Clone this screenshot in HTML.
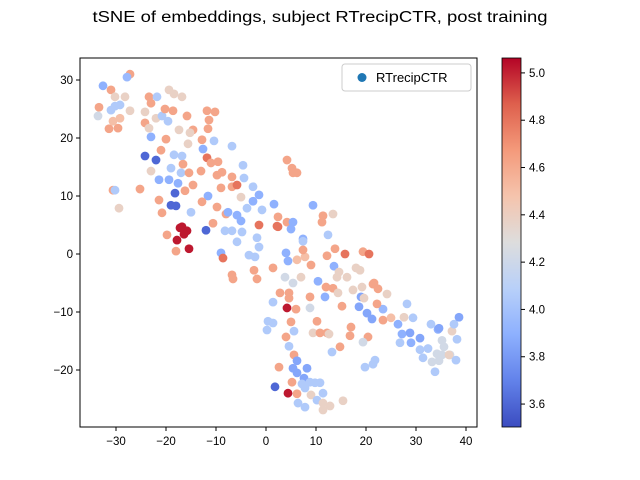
<!DOCTYPE html>
<html><head><meta charset="utf-8"><style>
body{margin:0;background:#fff}
svg{display:block;font-family:"Liberation Sans","DejaVu Sans",sans-serif}
</style></head><body>
<svg id="chart" width="640" height="480" viewBox="0 0 640 480">
<rect width="640" height="480" fill="#fff"/>
<text x="320" y="22" text-anchor="middle" font-size="15.5" textLength="455" lengthAdjust="spacingAndGlyphs">tSNE of embeddings, subject RTrecipCTR, post training</text>
<g id="points"></g>
<rect x="80" y="58" width="397" height="369" fill="none" stroke="#000" stroke-width="1"/>
<g id="xticks"></g>
<g id="yticks"></g>
<g>
<rect x="342" y="64" width="129" height="27" rx="3" fill="#fff" stroke="#ccc"/>
<circle cx="362" cy="77.5" r="4.5" fill="#1f77b4"/>
<text x="376" y="82" font-size="13">RTrecipCTR</text>
</g>
<defs><linearGradient id="cg" x1="0" y1="1" x2="0" y2="0">
<stop offset="0" stop-color="#3b4cc0"/><stop offset="0.125" stop-color="#6282ea"/><stop offset="0.25" stop-color="#8db0fe"/><stop offset="0.375" stop-color="#b8d0f9"/><stop offset="0.5" stop-color="#dddddd"/><stop offset="0.625" stop-color="#f5c4ad"/><stop offset="0.75" stop-color="#f49a7b"/><stop offset="0.875" stop-color="#de604d"/><stop offset="1" stop-color="#b40426"/>
</linearGradient></defs>
<rect x="502" y="58" width="19" height="369" fill="url(#cg)" stroke="#000" stroke-width="0.8"/>
<g id="cticks"></g>
</svg>
<script>
const xVals=[-27.2,-27.8,-32.6,-31.0,-30.2,-28.2,-33.4,-33.6,-31.0,-30.2,-29.2,-27.2,-30.6,-29.2,-31.4,-29.6,-23.4,-23.0,-21.8,-19.4,-18.4,-16.8,-24.2,-24.2,-23.4,-23.0,-22.0,-20.8,-19.6,-20.2,-18.6,-15.8,-17.4,-14.6,-15.2,-20.0,-15.6,-11.8,-10.2,-11.4,-11.6,-12.8,-10.4,-6.8,-12.6,-21.0,-24.2,-22.0,-18.4,-16.8,-11.8,-11.0,-9.6,-4.6,-23.0,-19.0,-16.6,-17.0,-15.4,-13.0,-9.8,-8.8,-6.8,-4.4,-21.4,-19.4,-17.6,-14.6,-25.2,-30.6,-30.2,-18.2,-16.2,-11.6,-9.0,-6.8,-5.8,-5.0,-1.4,-2.6,-3.8,-0.8,1.6,-19.0,-18.0,-21.4,-12.8,-9.8,-15.0,-20.8,-29.4,-10.6,-8.0,-7.6,-5.8,-5.0,-1.4,2.2,-16.8,-15.8,-16.4,-17.8,-15.4,-17.2,-12.0,-19.8,-8.2,-6.8,-4.8,-5.8,-1.8,-18.0,-9.0,-8.6,-1.4,-3.4,-2.2,-2.6,
4.2,5.2,6.2,5.4,9.4,11.4,13.4,11.2,12.4,2.4,4.2,2.4,5.4,5.0,7.4,4.0,4.4,6.2,7.8,7.4,9.0,12.2,13.8,15.8,19.4,20.6,13.6,14.6,16.2,14.2,18.0,18.8,21.4,10.4,1.4,3.8,5.4,7.0,-2.4,-1.8,-6.8,-6.6,12.0,13.4,17.4,19.2,14.4,7.4,
11.8,21.6,22.4,24.2,19.0,18.6,20.2,21.2,23.4,19.6,22.2,15.2,17.0,16.8,20.4,19.4,13.2,14.8,23.4,25.0,27.6,28.2,29.4,26.4,27.2,28.8,29.0,30.8,26.8,30.8,31.4,33.0,34.4,32.4,33.8,33.2,34.6,34.2,35.2,35.6,36.8,35.2,37.2,36.6,38.0,38.2,37.6,38.6,34.6,
2.8,4.6,4.6,1.4,8.8,4.2,6.0,8.8,0.4,1.4,0.2,5.0,5.6,4.0,4.6,10.2,9.4,10.8,12.2,12.6,21.8,21.4,19.8,5.6,6.2,5.4,8.2,6.2,7.6,2.6,5.2,7.2,8.8,9.8,10.8,7.8,1.8,4.4,6.2,9.0,11.4,10.2,6.4,7.8,11.4,12.8,11.4,15.4];
const yVals=[31.0,30.5,29.0,28.3,27.1,27.1,25.3,23.8,24.8,25.5,25.7,24.7,22.9,23.4,21.6,21.7,27.1,26.0,27.1,28.3,27.6,27.1,24.5,22.6,21.7,20.2,23.4,23.8,22.9,25.0,24.7,23.8,21.4,21.4,20.9,19.8,19.0,24.7,24.5,23.1,21.6,19.7,19.5,18.6,18.1,17.9,16.9,16.2,17.1,16.9,16.6,15.7,15.9,15.3,14.3,14.8,15.5,14.0,14.0,14.3,13.6,14.1,13.3,13.1,12.8,12.8,12.2,11.9,11.2,11.0,11.0,10.5,10.9,10.0,11.4,11.6,11.9,9.8,10.2,9.1,7.9,7.6,8.6,8.4,8.3,9.3,9.0,8.1,7.2,7.1,7.9,5.3,6.9,7.2,6.7,5.7,5.0,4.8,4.7,4.0,3.4,2.4,0.9,4.5,4.1,3.3,4.0,4.0,3.8,2.1,2.8,0.5,0.2,-0.7,1.2,-0.2,-0.5,11.6,
16.2,14.8,14.0,14.0,8.4,6.6,6.9,5.5,3.3,6.4,5.5,4.7,5.5,4.3,2.6,0.2,-1.2,-1.0,-0.5,0.7,-1.9,-0.3,0.9,0.0,0.4,0.0,-2.1,-3.1,-4.0,-4.0,-2.4,-2.8,-5.2,-4.7,-2.4,-4.0,-5.0,-4.0,-2.8,-4.3,-3.6,-4.3,-5.7,-5.9,-6.2,-5.7,-6.7,2.2,
-7.4,-5.0,-6.0,-6.9,-7.4,-9.1,-10.2,-11.2,-9.5,-7.6,-8.6,-9.0,-12.6,-14.1,-14.3,-15.2,-16.9,-16.0,-11.4,-11.0,-10.9,-8.6,-11.0,-12.1,-13.8,-13.6,-15.3,-14.5,-15.3,-16.5,-17.9,-12.1,-13.0,-16.3,-20.3,-18.6,-18.4,-17.2,-14.9,-16.0,-17.4,-17.4,-13.3,-17.4,-18.3,-14.7,-12.1,-10.9,-12.8,
-6.7,-6.7,-7.6,-8.3,-7.4,-9.3,-9.5,-9.3,-11.6,-11.9,-13.1,-11.7,-13.3,-14.3,-15.9,-11.6,-13.6,-13.6,-13.6,-13.8,-18.3,-19.0,-19.5,-17.4,-18.4,-19.7,-19.7,-20.5,-21.4,-19.5,-22.1,-22.4,-22.1,-22.2,-22.2,-23.1,-22.9,-24.0,-24.1,-24.3,-24.0,-25.2,-25.7,-26.4,-25.7,-26.2,-26.9,-25.3];
const cVals=[4.62,3.95,3.9,4.62,4.38,4.38,4.62,4.22,4.05,4.05,4.05,4.38,4.5,4.5,4.62,4.62,4.62,4.62,4.05,4.38,4.38,4.38,4.38,4.62,4.38,3.9,4.38,4.05,4.05,4.62,4.62,4.62,4.38,4.62,4.38,4.62,4.38,4.62,4.62,4.62,4.62,4.62,4.05,4.05,3.9,4.62,3.6,3.6,4.05,4.05,4.8,4.62,4.62,4.05,4.38,4.05,4.62,4.05,4.62,4.62,4.62,4.62,4.62,4.05,3.9,3.9,3.9,4.62,4.62,4.62,4.05,3.6,4.62,3.9,4.62,4.62,4.8,4.38,3.9,3.9,4.05,4.05,3.9,3.6,3.6,4.62,4.62,4.62,4.05,4.62,4.38,4.62,4.62,3.9,3.9,3.9,4.8,4.8,5.02,5.02,5.02,5.02,5.02,5.02,3.6,4.62,4.05,4.05,4.05,4.05,4.05,4.62,3.9,4.8,4.05,4.05,4.05,4.05,
4.62,4.62,4.62,4.62,3.9,4.62,4.38,4.62,4.05,4.62,4.62,4.8,3.9,3.9,3.9,3.9,3.9,4.5,4.5,4.62,4.62,4.62,4.62,4.8,4.62,4.8,3.9,4.38,4.38,4.38,4.38,4.38,4.62,3.9,4.62,4.22,4.22,4.38,4.62,4.62,4.62,4.62,4.62,4.62,4.38,4.38,4.38,4.05,
3.9,4.62,4.62,4.38,3.85,3.85,3.85,3.85,3.95,4.38,4.62,4.62,4.62,4.62,4.62,4.22,4.05,4.62,4.62,4.5,4.38,4.05,4.05,3.9,3.9,3.85,3.9,3.85,4.05,4.05,4.05,4.05,3.9,4.05,4.05,4.22,4.22,4.22,4.22,4.22,4.22,4.22,4.38,4.38,4.05,4.05,4.05,3.85,3.85,
4.62,4.62,4.62,4.05,4.62,5.02,4.62,4.22,4.05,4.05,4.05,4.62,4.05,4.62,4.05,4.62,4.38,4.62,4.62,4.38,4.05,4.05,4.05,4.62,3.85,3.85,3.85,3.85,3.85,4.62,4.62,4.05,4.05,4.05,4.05,4.05,3.6,5.02,4.62,4.38,4.05,4.05,4.05,4.05,4.38,4.38,4.38,4.38];
const xTickVals=[-30,-20,-10,0,10,20,30,40];
const yTickVals=[-20,-10,0,10,20,30];
const cTickVals=[3.6,3.8,4.0,4.2,4.4,4.6,4.8,5.0];
const NS="http://www.w3.org/2000/svg";
function sx(v){return 266+5*v;}
function sy(v){return 254-5.8*v;}
const cMin=3.503,cMax=5.063;
function cy(v){return 427-(v-cMin)/(cMax-cMin)*369;}
const stops=[[59,76,192],[98,130,234],[141,176,254],[184,208,249],[221,221,221],[245,196,173],[244,154,123],[222,96,77],[180,4,38]];
function cmap(v){let t=Math.max(0,Math.min(1,(v-cMin)/(cMax-cMin)))*8;let i=Math.min(7,Math.floor(t)),f=t-i;
const a=stops[i],b=stops[i+1];return 'rgb('+a.map((c,k)=>Math.round(c+(b[k]-c)*f)).join(',')+')';}
const pg=document.getElementById('points');
for(let i=0;i<xVals.length;i++){
 const c=document.createElementNS(NS,'circle');
 c.setAttribute('cx',sx(xVals[i]));c.setAttribute('cy',sy(yVals[i]));c.setAttribute('r',4.4);c.setAttribute('fill',cmap(cVals[i]));
 
 
 pg.appendChild(c);}
function mk(g,tag,attrs,txt){const e=document.createElementNS(NS,tag);for(const k in attrs)e.setAttribute(k,attrs[k]);if(txt!==undefined)e.textContent=txt;g.appendChild(e);return e;}
const xg=document.getElementById('xticks');
xTickVals.forEach(v=>{const x=sx(v);
 const l=mk(xg,'line',{x1:x,x2:x,y1:427,y2:431,stroke:'#000'});
 
 
 const t=mk(xg,'text',{x:x,y:445,'text-anchor':'middle','font-size':'11.5'},String(v).replace('-','\u2212'));
 
 });
const yg=document.getElementById('yticks');
yTickVals.forEach(v=>{const y=sy(v);
 const l=mk(yg,'line',{x1:76,x2:80,y1:y,y2:y,stroke:'#000'});
 
 
 const t=mk(yg,'text',{x:73,y:y+4,'text-anchor':'end','font-size':'11.5'},String(v).replace('-','\u2212'));
 
 });
const cg=document.getElementById('cticks');
cTickVals.forEach(v=>{const y=cy(v);
 const l=mk(cg,'line',{x1:521,x2:525,y1:y,y2:y,stroke:'#000'});
 
 
 const t=mk(cg,'text',{x:529,y:y+4,'font-size':'11.5'},v.toFixed(1));
 
 });
</script>
</body></html>
